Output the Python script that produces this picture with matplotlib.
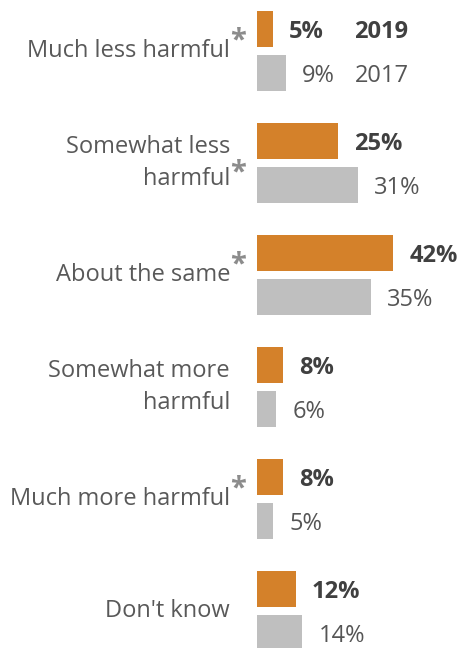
import matplotlib
matplotlib.use("Agg")
import matplotlib.pyplot as plt

categories = ["Much less harmful", "Somewhat less\nharmful", "About the same",
              "Somewhat more\nharmful", "Much more harmful", "Don't know"]
starred = [True, True, True, False, True, False]
vals_2019 = [5, 25, 42, 8, 8, 12]
vals_2017 = [9, 31, 35, 6, 5, 14]

ORANGE = "#D4812A"
GRAY = "#BFBFBF"
plt.rcParams["font.family"] = ["Open Sans", "DejaVu Sans"]

fig = plt.figure(figsize=(4.6, 6.48), dpi=100)
ax = fig.add_axes([257 / 460, 0, 201 / 460, 1])
ax.set_xlim(0, 201 / 3.25)
ax.set_ylim((648 - 51) / 112, -51 / 112)
ax.axis("off")

off = 22 / 112
h = 36 / 112
pad = 16 / 3.25
for i, cat in enumerate(categories):
    ax.barh(i - off, vals_2019[i], height=h, color=ORANGE)
    ax.barh(i + off, vals_2017[i], height=h, color=GRAY)
    ax.text(vals_2019[i] + pad, i - off + 3 / 112, f"{vals_2019[i]}%", ha="left", va="center",
            fontsize=17, fontweight="bold", color="#404040")
    ax.text(vals_2017[i] + pad, i + off + 3 / 112, f"{vals_2017[i]}%", ha="left", va="center",
            fontsize=17, color="#555555")
    ax.text(-8.3, i, cat, ha="right", va="center", fontsize=17, color="#595959",
            linespacing=1.4)
    if starred[i]:
        dy = 10 / 112 if "\n" in cat else -10 / 112
        ax.text(-8.2, i + dy, "*", ha="left", va="center", fontsize=21,
                fontweight="bold", color="#8C8C8C")

ax.text(30.0, -off + 3 / 112, "2019", ha="left", va="center", fontsize=17,
        fontweight="bold", color="#404040")
ax.text(30.0, off + 3 / 112, "2017", ha="left", va="center", fontsize=17, color="#555555")

fig.savefig("out.png", dpi=100)
